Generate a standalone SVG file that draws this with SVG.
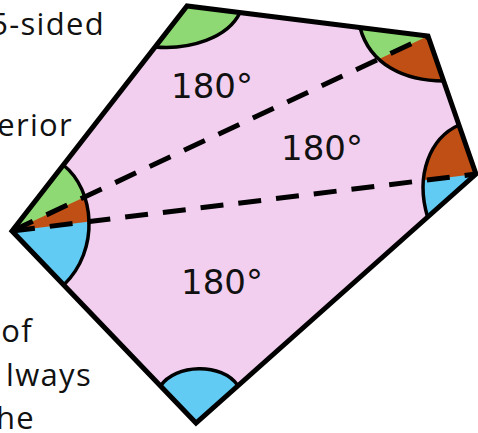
<svg xmlns="http://www.w3.org/2000/svg" width="478" height="433" viewBox="0 0 478 433">
  <style>
    .side { font-family: "Open Sans", "Liberation Sans", sans-serif; font-size: 31px; letter-spacing: 1.3px; fill: #111; text-anchor: end; }
    .lbl { font-family: "DejaVu Sans", "Liberation Sans", sans-serif; font-size: 34px; fill: #111; text-anchor: middle; }
    .arc { fill: none; stroke: #000; stroke-width: 3.5; }
    .dash { fill: none; stroke: #000; stroke-width: 5; stroke-dasharray: 23 15; }
    .green { fill: #8ED973; }
    .orange { fill: #C04F15; }
    .blue { fill: #61CBF3; }
  </style>
  <defs>
    <clipPath id="cTop"><path d="M187,6 L155,47 C190,50 228,38 240,12.6 Z"/></clipPath>
    <clipPath id="cTR"><path d="M428,36 L360,27.5 C370,65 405,81 443.7,81 Z"/></clipPath>
    <clipPath id="cR"><path d="M476,174 L459,125 C430,138 415,175 427.6,217 Z"/></clipPath>
    <clipPath id="cB"><path d="M196,423 L160.5,386 C175,364 222,362 238,385.7 Z"/></clipPath>
    <clipPath id="cL"><path d="M12,231 L63.3,165 C95,190 100,250 63.75,285 Z"/></clipPath>
  </defs>

  <g id="side-text">
    <text class="side" x="105" y="35">5-sided</text>
    <text class="side" x="73" y="136">erior</text>
    <text class="side" x="33" y="342">of</text>
    <text class="side" x="92" y="386">lways</text>
    <text class="side" x="35" y="429">he</text>
  </g>

  <g id="pentagon-fill">
    <polygon points="12,231 187,6 428,36 476,174 196,423" fill="#F2CEEF"/>
  </g>

  <g id="angle-top" clip-path="url(#cTop)">
    <rect class="green" x="0" y="0" width="478" height="433"/>
  </g>
  <g id="angle-top-right" clip-path="url(#cTR)">
    <rect class="orange" x="0" y="0" width="478" height="433"/>
    <polygon class="green" points="0,236.6 478,12.6 478,0 0,0"/>
  </g>
  <g id="angle-right" clip-path="url(#cR)">
    <rect class="blue" x="0" y="0" width="478" height="433"/>
    <polygon class="orange" points="0,232.5 478,173.75 478,0 0,0"/>
  </g>
  <g id="angle-bottom" clip-path="url(#cB)">
    <rect class="blue" x="0" y="0" width="478" height="433"/>
  </g>
  <g id="angle-left" clip-path="url(#cL)">
    <rect class="blue" x="0" y="0" width="478" height="433"/>
    <polygon class="orange" points="0,232.5 478,173.75 478,0 0,0"/>
    <polygon class="green" points="0,236.6 478,12.6 478,0 0,0"/>
  </g>

  <g id="arcs">
    <path class="arc" d="M155,47 C190,50 228,38 240,12.6"/>
    <path class="arc" d="M360,27.5 C370,65 405,81 443.7,81"/>
    <path class="arc" d="M459,125 C430,138 415,175 427.6,217"/>
    <path class="arc" d="M160.5,386 C175,364 222,362 238,385.7"/>
    <path class="arc" d="M63.3,165 C95,190 100,250 63.75,285"/>
  </g>

  <g id="connectors">
    <line class="dash" x1="12" y1="231" x2="428" y2="36"/>
    <line class="dash" x1="12" y1="231" x2="476" y2="174"/>
  </g>

  <g id="pentagon-outline">
    <polygon points="12,231 187,6 428,36 476,174 196,423" fill="none" stroke="#000" stroke-width="5" stroke-linejoin="miter"/>
  </g>

  <g id="labels">
    <text class="lbl" x="212" y="98">180°</text>
    <text class="lbl" x="322" y="160">180°</text>
    <text class="lbl" x="222" y="294">180°</text>
  </g>
</svg>
